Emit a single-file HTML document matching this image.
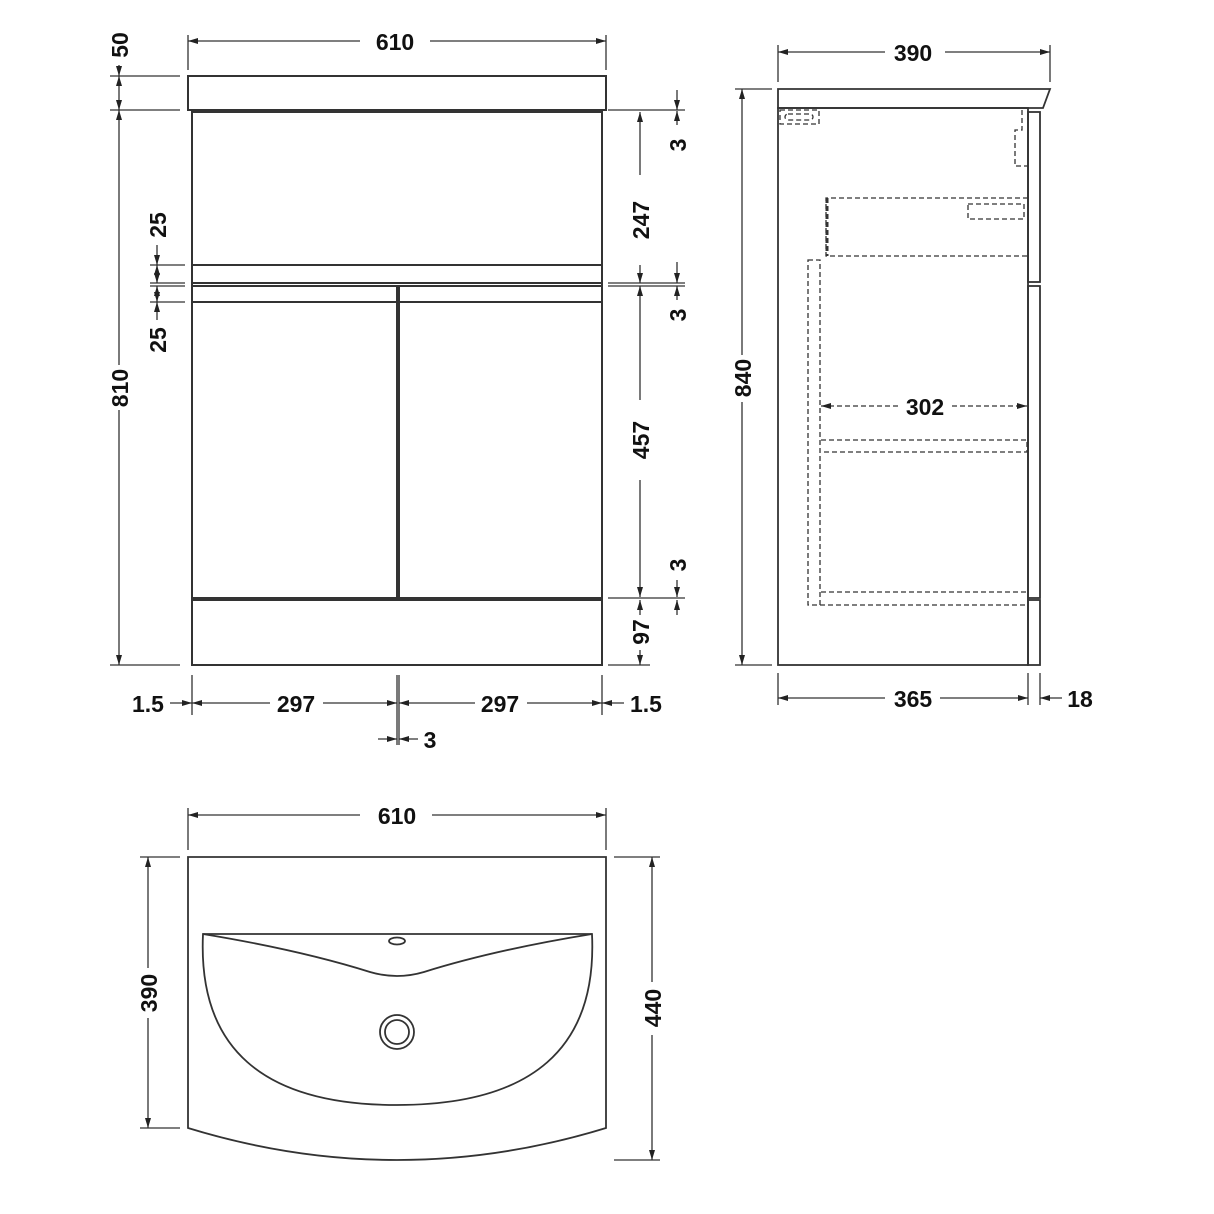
<!DOCTYPE html>
<html><head><style>body{margin:0;background:#fff}svg{display:block}text{font-family:"Liberation Sans",sans-serif;font-weight:bold;font-size:23px;fill:#111}</style></head><body>
<svg width="1214" height="1214" viewBox="0 0 1214 1214" xmlns="http://www.w3.org/2000/svg">
<defs><marker id="a" viewBox="0 0 10 6" refX="10" refY="3" markerWidth="10" markerHeight="6" orient="auto-start-reverse" markerUnits="userSpaceOnUse"><path d="M0,0L10,3L0,6z" fill="#222"/></marker></defs>
<g stroke="#333" stroke-width="2" fill="none">
<rect x="188" y="76" width="418" height="34"/>
<rect x="192" y="112" width="410" height="553"/>
<line x1="192" y1="265" x2="602" y2="265"/>
<line x1="192" y1="283" x2="602" y2="283"/><line x1="192" y1="286" x2="602" y2="286"/>
<line x1="192" y1="302" x2="602" y2="302"/>
<line x1="397" y1="286" x2="397" y2="598"/><line x1="399" y1="286" x2="399" y2="598"/>
<line x1="192" y1="598" x2="602" y2="598"/><line x1="192" y1="600" x2="602" y2="600"/>
</g>
<g stroke="#333" stroke-width="1.3" fill="none">
<line x1="188" y1="35" x2="188" y2="70"/><line x1="606" y1="35" x2="606" y2="70"/>
<line x1="188" y1="41" x2="360" y2="41" marker-start="url(#a)"/><line x1="430" y1="41" x2="606" y2="41" marker-end="url(#a)"/>
<line x1="110" y1="76" x2="180" y2="76"/><line x1="110" y1="110" x2="180" y2="110"/><line x1="110" y1="665" x2="180" y2="665"/>
<line x1="119" y1="65" x2="119" y2="76" marker-end="url(#a)"/><line x1="119" y1="76" x2="119" y2="110" marker-start="url(#a)" marker-end="url(#a)"/>
<line x1="119" y1="110" x2="119" y2="365" marker-start="url(#a)"/><line x1="119" y1="410" x2="119" y2="665" marker-end="url(#a)"/>
<line x1="150" y1="265" x2="185" y2="265"/><line x1="150" y1="283" x2="185" y2="283"/><line x1="150" y1="286" x2="185" y2="286"/><line x1="150" y1="302" x2="185" y2="302"/>
<line x1="157" y1="245" x2="157" y2="265" marker-end="url(#a)"/><line x1="157" y1="265" x2="157" y2="283" marker-start="url(#a)" marker-end="url(#a)"/>
<line x1="157" y1="286" x2="157" y2="302" marker-start="url(#a)" marker-end="url(#a)"/><line x1="157" y1="302" x2="157" y2="320" marker-start="url(#a)"/>
<line x1="608" y1="110" x2="685" y2="110"/><line x1="608" y1="283" x2="685" y2="283"/><line x1="608" y1="286" x2="685" y2="286"/><line x1="608" y1="598" x2="685" y2="598"/><line x1="608" y1="665" x2="650" y2="665"/>
<line x1="640" y1="112" x2="640" y2="175" marker-start="url(#a)"/><line x1="640" y1="265" x2="640" y2="283" marker-end="url(#a)"/>
<line x1="640" y1="286" x2="640" y2="400" marker-start="url(#a)"/><line x1="640" y1="480" x2="640" y2="597" marker-end="url(#a)"/>
<line x1="640" y1="600" x2="640" y2="615" marker-start="url(#a)"/><line x1="640" y1="650" x2="640" y2="665" marker-end="url(#a)"/>
<line x1="677" y1="90" x2="677" y2="110" marker-end="url(#a)"/><line x1="677" y1="125" x2="677" y2="111" marker-end="url(#a)"/>
<line x1="677" y1="262" x2="677" y2="283" marker-end="url(#a)"/><line x1="677" y1="300" x2="677" y2="286" marker-end="url(#a)"/>
<line x1="677" y1="580" x2="677" y2="597" marker-end="url(#a)"/><line x1="677" y1="615" x2="677" y2="600" marker-end="url(#a)"/>
<line x1="192" y1="675" x2="192" y2="715"/><line x1="397" y1="675" x2="397" y2="745"/><line x1="399" y1="675" x2="399" y2="745"/><line x1="602" y1="675" x2="602" y2="715"/>
<line x1="170" y1="703" x2="192" y2="703" marker-end="url(#a)"/><line x1="192" y1="703" x2="270" y2="703" marker-start="url(#a)"/><line x1="323" y1="703" x2="397" y2="703" marker-end="url(#a)"/>
<line x1="399" y1="703" x2="475" y2="703" marker-start="url(#a)"/><line x1="527" y1="703" x2="602" y2="703" marker-end="url(#a)"/><line x1="624" y1="703" x2="602" y2="703" marker-end="url(#a)"/>
<line x1="378" y1="739" x2="397" y2="739" marker-end="url(#a)"/><line x1="418" y1="739" x2="399" y2="739" marker-end="url(#a)"/>
</g>
<text x="395" y="50" text-anchor="middle">610</text>
<text transform="translate(128,45) rotate(-90)" text-anchor="middle">50</text>
<text transform="translate(128,388) rotate(-90)" text-anchor="middle">810</text>
<text transform="translate(166,225) rotate(-90)" text-anchor="middle">25</text>
<text transform="translate(166,340) rotate(-90)" text-anchor="middle">25</text>
<text transform="translate(649,220) rotate(-90)" text-anchor="middle">247</text>
<text transform="translate(649,440) rotate(-90)" text-anchor="middle">457</text>
<text transform="translate(649,632) rotate(-90)" text-anchor="middle">97</text>
<text transform="translate(686,145) rotate(-90)" text-anchor="middle">3</text>
<text transform="translate(686,315) rotate(-90)" text-anchor="middle">3</text>
<text transform="translate(686,565) rotate(-90)" text-anchor="middle">3</text>
<text x="148" y="712" text-anchor="middle">1.5</text><text x="296" y="712" text-anchor="middle">297</text><text x="500" y="712" text-anchor="middle">297</text><text x="646" y="712" text-anchor="middle">1.5</text>
<text x="430" y="748" text-anchor="middle">3</text>
<g stroke="#333" stroke-width="1.8" fill="none">
<path d="M778,89H1050L1043,108H778Z"/>
<rect x="778" y="108" width="250" height="557"/>
<rect x="1028" y="112" width="12" height="170"/><rect x="1028" y="286" width="12" height="312"/><rect x="1028" y="600" width="12" height="65"/>
</g>
<g stroke="#333" stroke-width="1.3" fill="none" stroke-dasharray="5,3">
<rect x="780" y="110" width="39" height="14"/><rect x="785" y="114" width="28" height="6" rx="3"/>
<path d="M1022,110V130H1015V166H1028"/>
<path d="M1028,198H826V256H1028"/><line x1="827" y1="198" x2="827" y2="256" stroke-width="3"/>
<rect x="968" y="204" width="56" height="15"/>
<rect x="808" y="260" width="12" height="345"/>
<path d="M821,440H1027V452H821"/>
<path d="M821,592H1027M820,605H1027"/>
<line x1="821" y1="406" x2="900" y2="406" marker-start="url(#a)"/><line x1="952" y1="406" x2="1027" y2="406" marker-end="url(#a)"/>
</g>
<g stroke="#333" stroke-width="1.3" fill="none">
<line x1="778" y1="45" x2="778" y2="82"/><line x1="1050" y1="45" x2="1050" y2="82"/>
<line x1="778" y1="52" x2="885" y2="52" marker-start="url(#a)"/><line x1="945" y1="52" x2="1050" y2="52" marker-end="url(#a)"/>
<line x1="735" y1="89" x2="772" y2="89"/><line x1="735" y1="665" x2="772" y2="665"/>
<line x1="742" y1="89" x2="742" y2="355" marker-start="url(#a)"/><line x1="742" y1="402" x2="742" y2="665" marker-end="url(#a)"/>
<line x1="778" y1="673" x2="778" y2="705"/><line x1="1028" y1="673" x2="1028" y2="705"/><line x1="1040" y1="673" x2="1040" y2="705"/>
<line x1="778" y1="698" x2="885" y2="698" marker-start="url(#a)"/><line x1="940" y1="698" x2="1028" y2="698" marker-end="url(#a)"/>
<line x1="1062" y1="698" x2="1040" y2="698" marker-end="url(#a)"/>
</g>
<text x="913" y="61" text-anchor="middle">390</text>
<text transform="translate(751,378) rotate(-90)" text-anchor="middle">840</text>
<text x="925" y="415" text-anchor="middle">302</text>
<text x="913" y="707" text-anchor="middle">365</text>
<text x="1080" y="707" text-anchor="middle">18</text>
<g stroke="#333" stroke-width="1.8" fill="none">
<path d="M188,857H606V1128Q397,1192 188,1128Z"/>
<path d="M203,934H592Q600,1105 397,1105Q195,1105 203,934Z"/>
<path d="M203,934Q300,950 370,972Q397,980 424,972Q494,950 592,934"/>
<ellipse cx="397" cy="941" rx="8" ry="3.5"/>
<circle cx="397" cy="1032" r="17"/><circle cx="397" cy="1032" r="12"/>
</g>
<g stroke="#333" stroke-width="1.3" fill="none">
<line x1="188" y1="808" x2="188" y2="850"/><line x1="606" y1="808" x2="606" y2="850"/>
<line x1="188" y1="815" x2="360" y2="815" marker-start="url(#a)"/><line x1="432" y1="815" x2="606" y2="815" marker-end="url(#a)"/>
<line x1="140" y1="857" x2="180" y2="857"/><line x1="140" y1="1128" x2="180" y2="1128"/>
<line x1="148" y1="857" x2="148" y2="968" marker-start="url(#a)"/><line x1="148" y1="1018" x2="148" y2="1128" marker-end="url(#a)"/>
<line x1="614" y1="857" x2="660" y2="857"/><line x1="614" y1="1160" x2="660" y2="1160"/>
<line x1="652" y1="857" x2="652" y2="982" marker-start="url(#a)"/><line x1="652" y1="1035" x2="652" y2="1160" marker-end="url(#a)"/>
</g>
<text x="397" y="824" text-anchor="middle">610</text>
<text transform="translate(157,993) rotate(-90)" text-anchor="middle">390</text>
<text transform="translate(661,1008) rotate(-90)" text-anchor="middle">440</text>
</svg>
</body></html>
